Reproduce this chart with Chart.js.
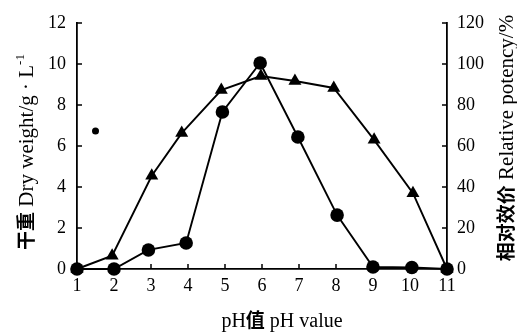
<!DOCTYPE html>
<html><head><meta charset="utf-8">
<style>html,body{margin:0;padding:0;background:#fff}#wrap{width:517px;height:333px;position:relative}</style>
<script src="https://cdn.jsdelivr.net/npm/chart.js@4/dist/chart.umd.min.js"></script>
</head><body><div id="wrap"><canvas id="c" width="517" height="333"></canvas></div>
<script>
const xTicks = [1,2,3,4,5,6,7,8,9,10,11];
const leftTicks = [0,2,4,6,8,10,12];
const rightTicks = [0,20,40,60,80,100,120];
// triangles: dry weight (g/L), left axis
const triPH = [1,1.95,3.02,3.83,4.9,5.97,6.89,7.94,9.03,10.08,11];
const triDry = [0,0.65,4.55,6.63,8.73,9.41,9.17,8.83,6.3,3.7,0];
// circles: relative potency (%), right axis
const circPH = [1,2,2.93,3.95,4.93,5.95,6.97,8.03,9,10.05,11];
const circPotency = [0,0,9.3,12.7,76.6,100.5,64.4,26.3,1,0.7,0];
// stray dot in the original figure
const strayPH = [1.5];
const strayDry = [6.73];

const SERIF = '"Liberation Serif", "Times New Roman", serif';
const CJK = '"Noto Sans CJK SC", sans-serif';

function pts(xs, ys){ return xs.map((x,i)=>({x:x, y:ys[i]})); }

const tickMarks = {
  id:'tickMarks',
  afterDraw(chart){
    const ctx = chart.ctx, a = chart.chartArea;
    const L = 5;
    ctx.save();
    ctx.strokeStyle = '#000'; ctx.lineWidth = 1.5;
    const sx = chart.scales.x, sy = chart.scales.y, sy2 = chart.scales.y2;
    ctx.beginPath();
    xTicks.forEach(v=>{ const p = sx.getPixelForValue(v); ctx.moveTo(p, a.bottom); ctx.lineTo(p, a.bottom - L); });
    leftTicks.forEach(v=>{ const p = sy.getPixelForValue(v); ctx.moveTo(a.left, p); ctx.lineTo(a.left + L, p); });
    rightTicks.forEach(v=>{ const p = sy2.getPixelForValue(v); ctx.moveTo(a.right, p); ctx.lineTo(a.right - L, p); });
    ctx.stroke();
    ctx.restore();
  }
};

function drawPieces(ctx, pieces, cx, cy, rot){
  ctx.save();
  ctx.translate(cx, cy);
  ctx.rotate(rot);
  ctx.fillStyle = '#000';
  ctx.textBaseline = 'alphabetic';
  let total = 0;
  pieces.forEach(p=>{ ctx.font = p.font; p.w = ctx.measureText(p.t).width; total += p.w; });
  let x = -total/2;
  pieces.forEach(p=>{ ctx.font = p.font; ctx.fillText(p.t, x, 7 + (p.dy||0)); x += p.w; });
  ctx.restore();
}

const titles = {
  id:'titles',
  afterDraw(chart){
    const ctx = chart.ctx;
    drawPieces(ctx, [
      {t:'干重', font:'bold 19px ' + CJK},
      {t:' Dry weight/g · L', font:'21px ' + SERIF},
      {t:'-1', font:'13px ' + SERIF, dy:-9}
    ], 26, 152, -Math.PI/2);
    drawPieces(ctx, [
      {t:'相对效价', font:'bold 19px ' + CJK},
      {t:' Relative potency/%', font:'21px ' + SERIF}
    ], 506, 138, -Math.PI/2);
    drawPieces(ctx, [
      {t:'pH', font:'20px ' + SERIF},
      {t:'值', font:'bold 19px ' + CJK},
      {t:' pH value', font:'20px ' + SERIF}
    ], 282, 320, 0);
  }
};

const tickFont = {family: SERIF, size: 18};

new Chart(document.getElementById('c'), {
  type: 'line',
  data: {
    datasets: [
      {data: pts(triPH, triDry), yAxisID:'y', borderColor:'#000', backgroundColor:'#000', borderWidth:1.9,
       pointStyle:'triangle', pointRadius:7.5, pointBorderWidth:0, tension:0, clip:false},
      {data: pts(circPH, circPotency), yAxisID:'y2', borderColor:'#000', backgroundColor:'#000', borderWidth:1.9,
       pointStyle:'circle', pointRadius:6.8, pointBorderWidth:0, tension:0, clip:false},
      {data: pts(strayPH, strayDry), yAxisID:'y', showLine:false, borderColor:'#000', backgroundColor:'#000',
       pointStyle:'circle', pointRadius:3.5, pointBorderWidth:0, clip:false}
    ]
  },
  options: {
    responsive:false, animation:false,
    layout:{padding:{top:23, left:0, right:0, bottom:0}},
    plugins:{legend:{display:false}, tooltip:{enabled:false}, title:{display:false}},
    scales:{
      x:{type:'linear', min:1, max:11,
         afterBuildTicks(s){ s.ticks = xTicks.map(v=>({value:v})); },
         afterFit(s){ s.height = 64; },
         grid:{display:false, drawTicks:false},
         border:{display:true, color:'#000', width:1.8},
         ticks:{font:tickFont, color:'#000', padding:6, maxRotation:0, autoSkip:false}},
      y:{type:'linear', position:'left', min:0, max:12,
         afterBuildTicks(s){ s.ticks = leftTicks.map(v=>({value:v})); },
         afterFit(s){ s.width = 77; },
         grid:{display:false, drawTicks:false},
         border:{display:true, color:'#000', width:1.8},
         ticks:{font:tickFont, color:'#000', padding:11}},
      y2:{type:'linear', position:'right', min:0, max:120,
         afterBuildTicks(s){ s.ticks = rightTicks.map(v=>({value:v})); },
         afterFit(s){ s.width = 70; },
         grid:{display:false, drawTicks:false},
         border:{display:true, color:'#000', width:1.8},
         ticks:{font:tickFont, color:'#000', padding:10}}
    }
  },
  plugins:[tickMarks, titles]
});
</script></body></html>
